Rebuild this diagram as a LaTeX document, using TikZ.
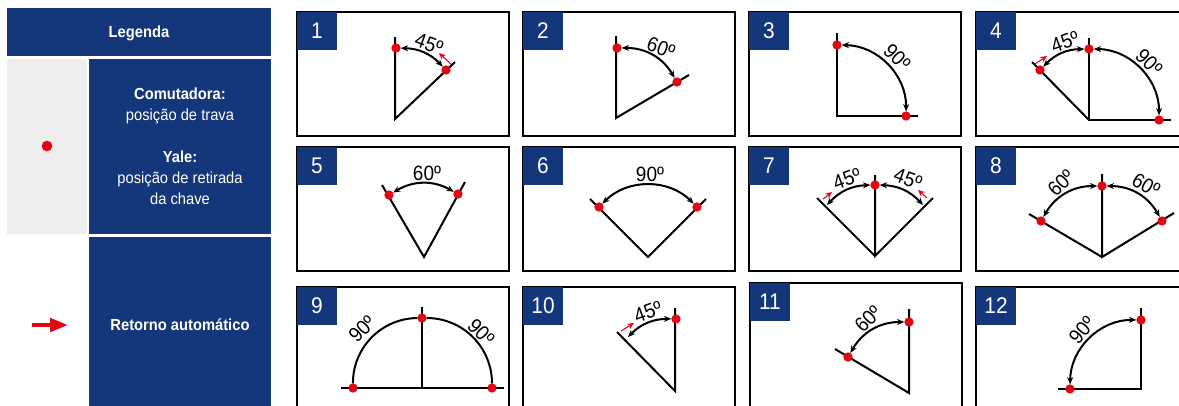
\documentclass[tikz,border=0pt]{standalone}
\usepackage{fontspec}
\setmainfont[FakeStretch=0.92]{Liberation Sans}
\usepackage{xcolor}
\usepackage{tikz}
\usetikzlibrary{arrows.meta}
\definecolor{LegendNavy}{HTML}{14367A}
\definecolor{LegendGray}{HTML}{EDEDED}
\definecolor{MarkRed}{HTML}{E30613}
\tikzset{
  legendbox/.style={fill=LegendNavy,text=white,align=center,outer sep=0pt,inner sep=0pt,
    font=\fontsize{12}{15.75}\selectfont},
  panelbox/.style={draw=black,line width=2pt,minimum width=159pt,minimum height=93pt,
    anchor=north west,outer sep=0pt,inner sep=0pt},
  numbox/.style={fill=LegendNavy,text=white,minimum width=30pt,minimum height=28.5pt,
    anchor=north west,outer sep=0pt,inner sep=0pt,font=\fontsize{17}{20}\selectfont},
  armline/.style={line width=1.5pt,draw=black,line join=miter},
  sweepline/.style={line width=1.5pt,draw=black,>={Stealth[length=5.5pt,width=4.5pt]}},
  retorno/.style={line width=0.8pt,draw=MarkRed,-{Stealth[length=5pt,width=4.5pt]}},
  lockdot/.style={circle,fill=MarkRed,minimum size=7pt,inner sep=0pt,outer sep=0pt},
  anglelabel/.style={font=\fontsize{15.5}{18}\selectfont,inner sep=0pt},
}
\begin{document}
\begin{tikzpicture}[x=0.75pt,y=-0.75pt]
  \clip (0,0) rectangle (1179,405);
  \node[legendbox,minimum width=198pt,minimum height=36pt,text height=10.5pt,text depth=2.5pt,font=\fontsize{12}{15.75}\selectfont\bfseries] (legTitle) at (139,32) {Legenda};
  \node[fill=LegendGray,minimum width=60pt,minimum height=131.25pt,outer sep=0pt] (legGray) at (47,146.5) {};
  \node[legendbox,minimum width=136.5pt,minimum height=131.25pt] (legDot) at (180,146.5) {\textbf{Comutadora:}\\posição de trava\\[15.75pt]\textbf{Yale:}\\posição de retirada\\da chave};
  \node[legendbox,minimum width=136.5pt,minimum height=132pt,font=\fontsize{12}{15.75}\selectfont\bfseries] (legArrow) at (180,325) {Retorno automático};
  \node[lockdot,minimum size=8pt] (legMark) at (47,146) {};
  \coordinate (legA) at (32,325);
  \coordinate (legB) at (68,325);
  \draw[line width=3pt,draw=MarkRed,-{Triangle[length=13.5pt,width=10pt]}] (legA) -- (legB);

  \foreach \n/\x/\y in {1/297/12,2/523/12,3/749/12,4/976/12,5/297/147,6/523/147,7/749/147,8/976/147,9/297/287,10/523/287,11/750/283,12/976/287}{
    \node[panelbox] (panel\n) at (\x,\y) {};
    \node[numbox] (num\n) at (panel\n.north west) {\n};
  }

  \coordinate (o1) at (395,119);
  \coordinate (t1) at (395,37);
  \coordinate (e1) at (455,62);
  \draw[armline] (t1) -- (o1) -- (e1);
  \node[lockdot] (a1) at (396,48) {};
  \node[lockdot] (b1) at (446,70) {};
  \draw[sweepline,<->] (a1) to[bend left=22.5] (b1);
  \coordinate (r1a) at (451,64);
  \coordinate (r1b) at (439,53);
  \draw[retorno] (r1a) -- (r1b);
  \node[anglelabel,rotate=-20] (lab1) at (429,44) {45º};

  \coordinate (o2) at (616,118);
  \coordinate (t2) at (616,36);
  \coordinate (e2) at (689,75);
  \draw[armline] (t2) -- (o2) -- (e2);
  \node[lockdot] (a2) at (617,48) {};
  \node[lockdot] (b2) at (677,82) {};
  \draw[sweepline,<->] (a2) to[bend left=30] (b2);
  \node[anglelabel,rotate=-20] (lab2) at (661,48) {60º};

  \coordinate (o3) at (837,116);
  \coordinate (t3) at (837,33);
  \coordinate (e3) at (918,116);
  \draw[armline] (t3) -- (o3) -- (e3);
  \node[lockdot] (a3) at (837,45) {};
  \node[lockdot] (b3) at (906,116) {};
  \draw[sweepline,<->] (a3) to[bend left=45] (b3);
  \node[anglelabel,rotate=-45] (lab3) at (897,57) {90º};

  \coordinate (o4) at (1089,120);
  \coordinate (t4) at (1089,38);
  \coordinate (e4) at (1171,120);
  \coordinate (f4) at (1032,62);
  \draw[armline] (t4) -- (o4) -- (e4);
  \draw[armline] (o4) -- (f4);
  \node[lockdot] (a4) at (1089,49) {};
  \node[lockdot] (b4) at (1159,120) {};
  \node[lockdot] (c4) at (1040,70) {};
  \draw[sweepline,<->] (a4) to[bend left=45] (b4);
  \draw[sweepline,<->] (a4) to[bend right=22.5] (c4);
  \coordinate (r4a) at (1035,64);
  \coordinate (r4b) at (1047,56);
  \draw[retorno] (r4a) -- (r4b);
  \node[anglelabel,rotate=20] (lab4a) at (1065,42) {45º};
  \node[anglelabel,rotate=-45] (lab4b) at (1149,62) {90º};

  \coordinate (o5) at (424,257);
  \coordinate (t5) at (382,185);
  \coordinate (e5) at (465,182);
  \draw[armline] (t5) -- (o5) -- (e5);
  \node[lockdot] (a5) at (389,195) {};
  \node[lockdot] (b5) at (458,194) {};
  \draw[sweepline,<->] (a5) to[bend left=30] (b5);
  \node[anglelabel] (lab5) at (427,173) {60º};

  \coordinate (o6) at (648,257);
  \coordinate (t6) at (590,199);
  \coordinate (e6) at (706,199);
  \draw[armline] (t6) -- (o6) -- (e6);
  \node[lockdot] (a6) at (599,207) {};
  \node[lockdot] (b6) at (697,207) {};
  \draw[sweepline,<->] (a6) to[bend left=45] (b6);
  \node[anglelabel] (lab6) at (650,174) {90º};

  \coordinate (o7) at (875,256);
  \coordinate (t7) at (875,175);
  \coordinate (e7) at (933,198);
  \coordinate (f7) at (817,198);
  \coordinate (g7) at (827,205);
  \coordinate (h7) at (923,205);
  \draw[armline] (t7) -- (o7) -- (e7);
  \draw[armline] (o7) -- (f7);
  \node[lockdot] (a7) at (875,185) {};
  \draw[sweepline,<->] (a7) to[bend right=22.5] (g7);
  \draw[sweepline,<->] (a7) to[bend left=22.5] (h7);
  \coordinate (r7a) at (823,199);
  \coordinate (r7b) at (832,192);
  \coordinate (r7c) at (927,198);
  \coordinate (r7d) at (918,190);
  \draw[retorno] (r7a) -- (r7b);
  \draw[retorno] (r7c) -- (r7d);
  \node[anglelabel,rotate=20] (lab7a) at (847,179) {45º};
  \node[anglelabel,rotate=-20] (lab7b) at (908,179) {45º};

  \coordinate (o8) at (1102,257);
  \coordinate (t8) at (1102,174);
  \coordinate (e8) at (1174,213);
  \coordinate (f8) at (1029,214);
  \draw[armline] (t8) -- (o8) -- (e8);
  \draw[armline] (o8) -- (f8);
  \node[lockdot] (a8) at (1102,186) {};
  \node[lockdot] (b8) at (1162,221) {};
  \node[lockdot] (c8) at (1041,221) {};
  \draw[sweepline,<->] (a8) to[bend left=30] (b8);
  \draw[sweepline,<->] (a8) to[bend right=30] (c8);
  \node[anglelabel,rotate=45] (lab8a) at (1061,183) {60º};
  \node[anglelabel,rotate=-30] (lab8b) at (1146,185) {60º};

  \coordinate (o9) at (422,388);
  \coordinate (t9) at (422,307);
  \coordinate (e9) at (504,388);
  \coordinate (f9) at (341,388);
  \draw[armline] (t9) -- (o9);
  \draw[armline] (f9) -- (e9);
  \node[lockdot] (a9) at (422,318) {};
  \node[lockdot] (b9) at (492,388) {};
  \node[lockdot] (c9) at (353,388) {};
  \draw[sweepline] (a9) to[bend left=45] (b9);
  \draw[sweepline] (a9) to[bend right=45] (c9);
  \node[anglelabel,rotate=45] (lab9a) at (362,329) {90º};
  \node[anglelabel,rotate=-45] (lab9b) at (481,332) {90º};

  \coordinate (o10) at (675,391);
  \coordinate (t10) at (675,308);
  \coordinate (e10) at (617,332);
  \coordinate (g10) at (628,337);
  \draw[armline] (t10) -- (o10) -- (e10);
  \node[lockdot] (a10) at (676,319) {};
  \draw[sweepline,<->] (a10) to[bend right=22.5] (g10);
  \coordinate (r10a) at (621,331);
  \coordinate (r10b) at (634,323);
  \draw[retorno] (r10a) -- (r10b);
  \node[anglelabel,rotate=20] (lab10) at (648,312) {45º};

  \coordinate (o11) at (909,393);
  \coordinate (t11) at (909,309);
  \coordinate (e11) at (835,349);
  \draw[armline] (t11) -- (o11) -- (e11);
  \node[lockdot] (a11) at (909,322) {};
  \node[lockdot] (b11) at (848,357) {};
  \draw[sweepline,<->] (a11) to[bend right=30] (b11);
  \node[anglelabel,rotate=45] (lab11) at (868,319) {60º};

  \coordinate (o12) at (1141,389);
  \coordinate (t12) at (1141,308);
  \coordinate (e12) at (1058,389);
  \draw[armline] (t12) -- (o12) -- (e12);
  \node[lockdot] (a12) at (1141,320) {};
  \node[lockdot] (b12) at (1070,389) {};
  \draw[sweepline,<->] (a12) to[bend right=45] (b12);
  \node[anglelabel,rotate=50] (lab12) at (1082,330) {90º};
\end{tikzpicture}
\end{document}
